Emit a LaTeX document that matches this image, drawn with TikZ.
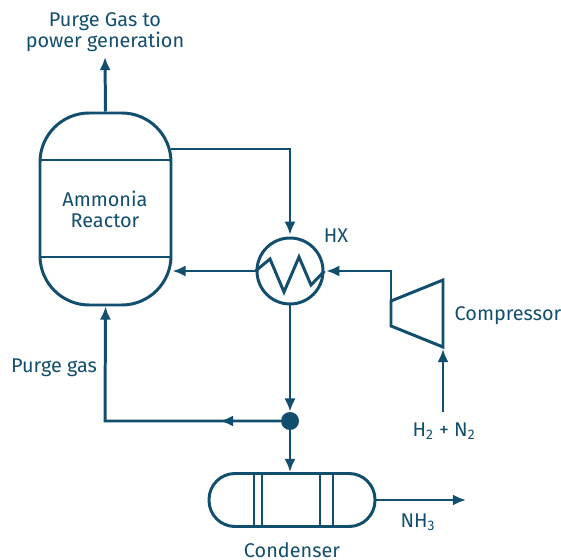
\documentclass[tikz,border=0pt]{standalone}
\usepackage{fontspec}
\setmainfont{Fira Sans}
\usetikzlibrary{arrows.meta}
\definecolor{pipeblue}{HTML}{124E6E}

\begin{document}
\begin{tikzpicture}[
    x=0.02cm, y=-0.02cm,
    line join=miter,
    unit/.style={draw=pipeblue, line width=1.7pt},
    pipe/.style={draw=pipeblue, line width=1.7pt},
    flow/.style={pipe, -{Latex[length=7.5pt,width=6.4pt]}},
    label/.style={text=pipeblue, font=\fontsize{11.3}{12}\selectfont, align=center, inner sep=0pt}
]
\useasboundingbox (0,0) rectangle (561,560);

% Reactor
\node[unit, rounded corners=28pt, minimum width=131*0.02cm, minimum height=192*0.02cm, inner sep=0pt] (reactor) at (105.5,209) {};
\coordinate (reactor top left) at (40,160);
\coordinate (reactor top right) at (171,160);
\coordinate (reactor low left) at (40,257);
\coordinate (reactor low right) at (171,257);
\draw[unit] (reactor top left) -- (reactor top right);
\draw[unit] (reactor low left) -- (reactor low right);
\node[label] (reactor name) at (105,209) {Ammonia\\Reactor};

% Heat exchanger
\node[unit, circle, minimum size=66*0.02cm, inner sep=0pt] (hx) at (290,271) {};
\coordinate (coil a) at (270,259);
\coordinate (coil b) at (284,292);
\coordinate (coil c) at (299,257);
\coordinate (coil d) at (311,285);
\draw[unit] (hx.west) -- (coil a) -- (coil b) -- (coil c) -- (coil d) -- (hx.east);
\node[label] (hx name) at (336,236) {HX};

% Compressor
\coordinate (comp a) at (391,301);
\coordinate (comp b) at (443,280);
\coordinate (comp c) at (443,347);
\coordinate (comp d) at (391,326);
\draw[unit] (comp a) -- (comp b) -- (comp c) -- (comp d) -- cycle;
\node[label] (comp name) at (508,315.5) {Compressor};

% Splitter
\node[circle, fill=pipeblue, minimum size=18*0.02cm, inner sep=0pt] (split) at (290,421) {};

% Condenser
\node[unit, rounded corners=14.8pt, minimum width=166*0.02cm, minimum height=53*0.02cm, inner sep=0pt] (condenser) at (292,500) {};
\foreach \bandx in {254,262,320,333}
    \draw[unit] (\bandx,474) -- (\bandx,526);
\node[label] (condenser name) at (292,550) {Condenser};

% Streams
\coordinate (purge end) at (105,57);
\coordinate (reactor out) at (171,149);
\coordinate (reactor out corner) at (290,149);
\coordinate (comp out corner) at (391,271);
\coordinate (feed in) at (443,412);
\coordinate (comp in) at (443,349);
\coordinate (split mid) at (220,421);
\coordinate (split corner) at (105,421);
\coordinate (nh3 end) at (466,500);

\draw[flow] (reactor.north) -- (purge end);
\draw[flow, shorten >=1pt] (reactor out) -- (reactor out corner) -- (hx.north);
\draw[flow] (hx.west) -- (hx.west -| reactor.east);
\draw[flow, shorten >=1pt] (comp a) -- (comp out corner) -- (hx.east);
\draw[flow] (feed in) -- (comp in);
\draw[flow] (hx.south) -- (split.north);
\draw[flow] (split.south) -- (condenser.north -| split);
\draw[flow] (split.west) -- (split corner) -- (reactor.south);
\draw[flow] (split.west) -- (split mid);
\draw[flow] (condenser.east) -- (nh3 end);

% Stream labels
\node[label] (purge top name) at (105,32) {Purge Gas to\\power generation};
\node[label] (purge name) at (54,368) {Purge gas};
\node[label] (feed name) at (444,431) {H\textsubscript{2} + N\textsubscript{2}};
\node[label] (nh3 name) at (418,522) {NH\textsubscript{3}};

\end{tikzpicture}
\end{document}
